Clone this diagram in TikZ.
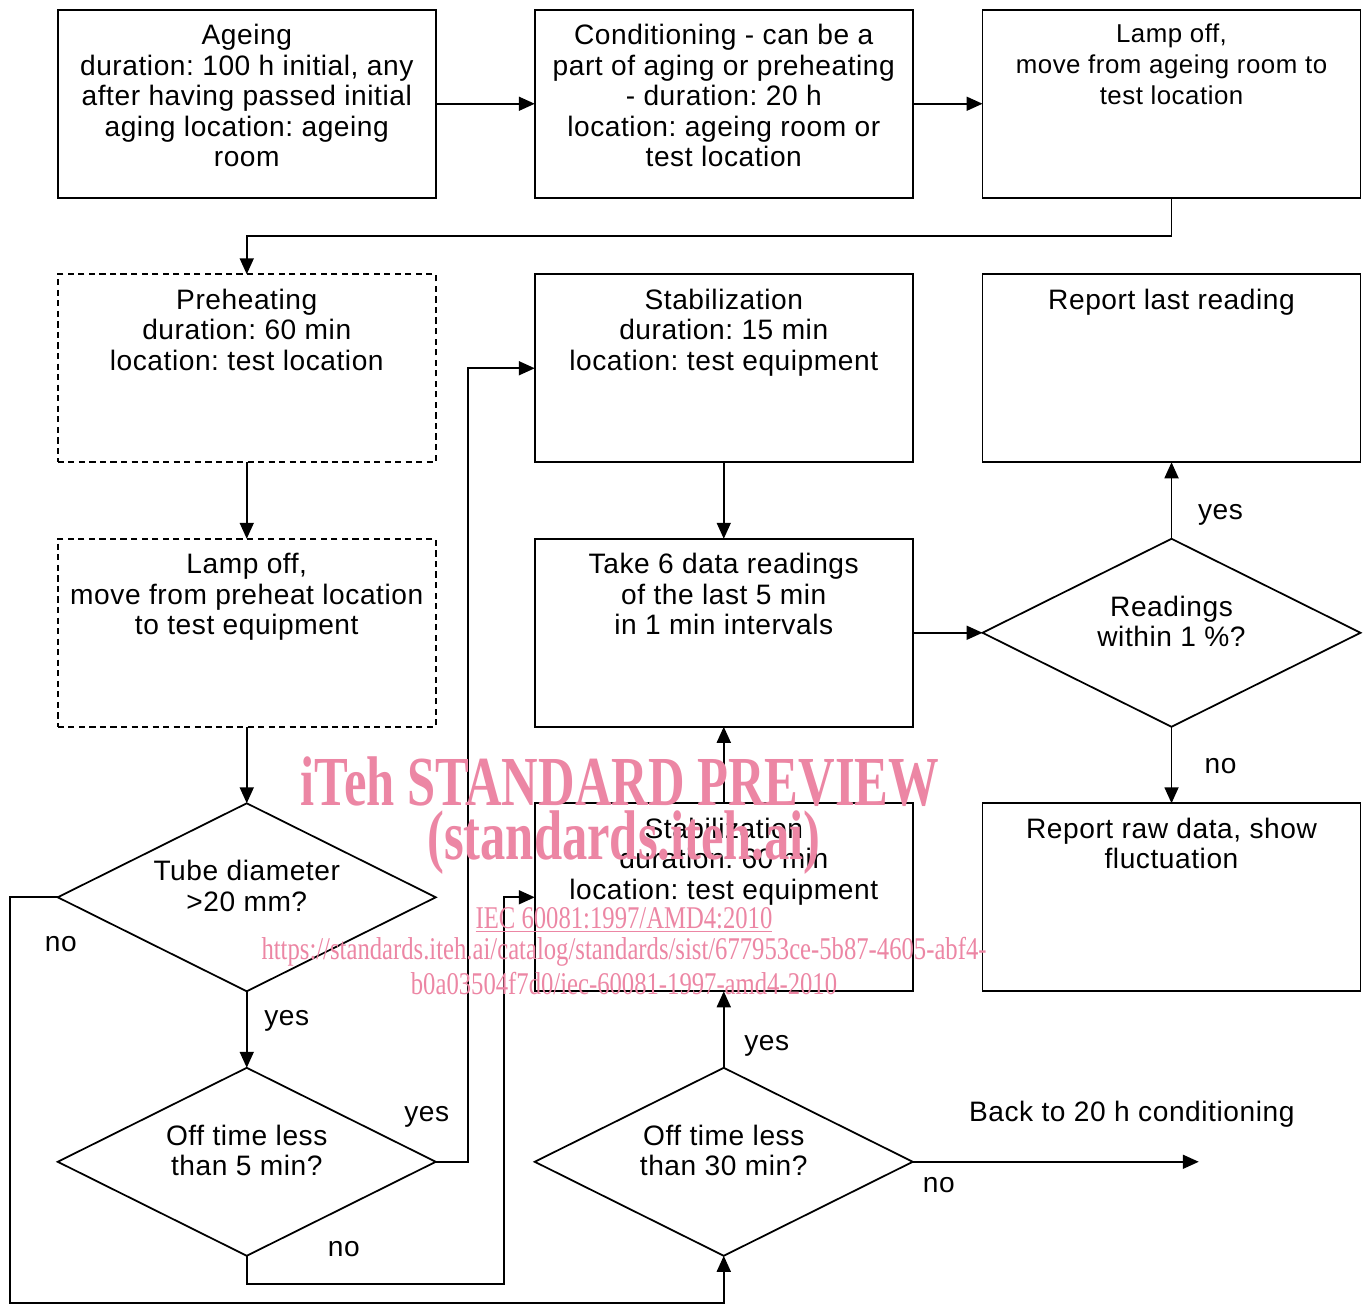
\documentclass[tikz,border=0pt]{standalone}
\usepackage{fontspec}
\setmainfont{Liberation Sans}[LetterSpace=2]
\newfontfamily\wmfont[FakeStretch=0.78]{Liberation Serif}
\newfontfamily\wmbigfont[FakeStretch=0.72]{Liberation Serif}
\usepackage{tikz}
\usetikzlibrary{matrix,positioning,arrows.meta,shapes.geometric}
\definecolor{wmpink}{RGB}{236,134,164}
\frenchspacing
\newcommand{\toptext}[1]{\parbox[c][3.18cm][t]{7.3cm}{\centering #1}}
\newcommand{\asktext}[1]{\raisebox{0pt}[\height][\dimexpr\depth+0.3cm\relax]{\begin{tabular}{@{}c@{}}#1\end{tabular}}}

\begin{document}
\begin{tikzpicture}[>={Triangle[length=0.32cm,width=0.28cm]}, line width=1pt,
  font=\fontsize{16pt}{17.4pt}\selectfont,
  stepbox/.style={draw, rectangle, inner xsep=0.13cm, inner ysep=0.29cm, outer sep=0pt},
  prepbox/.style={stepbox, dash pattern=on 3.5pt off 2.5pt},
  decision/.style={draw, diamond, aspect=2, inner sep=0pt, outer sep=0pt, minimum width=7.56cm, minimum height=3.76cm},
  lbl/.style={inner sep=0pt, text height=1.5ex, text depth=0.25ex},
  wm/.style={inner sep=0pt, text=wmpink}]
\useasboundingbox (0,0) rectangle (27.42,-26.1);
\matrix (m) [matrix anchor=north west, inner sep=0pt, row sep=1.495cm, column sep=1.945cm] at (1.12,-0.16)
{ \node[stepbox] (ageing) {\toptext{Ageing\\duration: 100 h initial, any\\after having passed initial\\aging location: ageing\\room}}; &
  \node[stepbox] (cond) {\toptext{Conditioning - can be a\\part of aging or preheating\\- duration: 20 h\\location: ageing room or\\test location}}; &[-0.585cm]
  \node[stepbox] (lampoff) {\toptext{\fontsize{14.7pt}{17.4pt}\selectfont Lamp off,\\move from ageing room to\\test location}}; \\
  \node[prepbox] (preheat) {\toptext{Preheating\\duration: 60 min\\location: test location}}; &
  \node[stepbox] (stab15) {\toptext{Stabilization\\duration: 15 min\\location: test equipment}}; &[-0.585cm]
  \node[stepbox] (report) {\toptext{Report last reading}}; \\
  \node[prepbox] (lampoff2) {\toptext{Lamp off,\\move from preheat location\\to test equipment}}; &
  \node[stepbox] (take6) {\toptext{Take 6 data readings\\of the last 5 min\\in 1 min intervals}}; &[-0.585cm]
  \node[decision] (readings) {\asktext{Readings\\within 1 \%?}}; \\
  \node[decision] (tube) {\asktext{Tube diameter\\>20 mm?}}; &
  \node[stepbox] (stab60) {\toptext{Stabilization\\duration: 60 min\\location: test equipment}}; &[-0.585cm]
  \node[stepbox] (raw) {\toptext{Report raw data, show\\fluctuation}}; \\
  \node[decision] (off5) {\asktext{Off time less\\than 5 min?}}; &
  \node[decision] (off30) {\asktext{Off time less\\than 30 min?}}; \\
};
\coordinate[right=5.72cm of off30.east] (back);
\path[->]
(ageing) edge (cond)
(cond) edge (lampoff)
(preheat) edge (lampoff2)
(lampoff2) edge (tube)
(tube) edge (off5)
(stab15) edge (take6)
(stab60) edge (take6)
(off30) edge (stab60)
(take6) edge (readings)
(readings) edge (report)
           edge (raw)
(off30.east) edge (back);
\draw[->] (lampoff.south) -- ++(0,-0.76) -| (preheat.north);
\draw[->] (tube.west) -- ++(-0.96,0) |- ([yshift=-0.94cm]off30.south) -- (off30.south);
\draw[->] (off5.east) -- ++(0.64,0) |- (stab15.west);
\draw[->] (off5.south) -- ++(0,-0.56) -- ++(5.14,0) |- (stab60.west);
\node[lbl] (tubeno) at ([shift={(-3.72,-0.96)}]tube.center) {no};
\node[lbl] (tubeyes) at ([shift={(0.8,-2.44)}]tube.center) {yes};
\node[lbl] (off5yes) at ([shift={(3.6,0.92)}]off5.center) {yes};
\node[lbl] (off5no) at ([shift={(1.94,-1.78)}]off5.center) {no};
\node[lbl] (off30yes) at ([shift={(0.86,2.34)}]off30.center) {yes};
\node[lbl] (off30no) at ([shift={(4.3,-0.5)}]off30.center) {no};
\node[lbl] (backtxt) at ([shift={(8.16,0.92)}]off30.center) {Back to 20 h conditioning};
\node[lbl] (readyes) at ([shift={(0.98,2.38)}]readings.center) {yes};
\node[lbl] (readno) at ([shift={(0.98,-2.7)}]readings.center) {no};
\node[wm, font={\wmbigfont\fontsize{40pt}{40pt}\selectfont\bfseries}] (wmtitle) at (12.4,-15.64) {iTeh STANDARD PREVIEW};
\node[wm, font={\wmbigfont\fontsize{40pt}{40pt}\selectfont\bfseries}] (wmsite) at (12.48,-16.86) {(standards.iteh.ai)};
\node[wm, font={\wmfont\fontsize{18pt}{18pt}\selectfont}] (wmdoc) at (12.48,-18.4) {\underline{IEC 60081:1997/AMD4:2010}};
\node[wm, font={\wmfont\fontsize{18pt}{18pt}\selectfont}] (wmurl) at (12.48,-19.04) {https://standards.iteh.ai/catalog/standards/sist/677953ce-5b87-4605-abf4-};
\node[wm, font={\wmfont\fontsize{18pt}{18pt}\selectfont}] (wmurlb) at (12.48,-19.68) {b0a03504f7d0/iec-60081-1997-amd4-2010};
\end{tikzpicture}
\end{document}
